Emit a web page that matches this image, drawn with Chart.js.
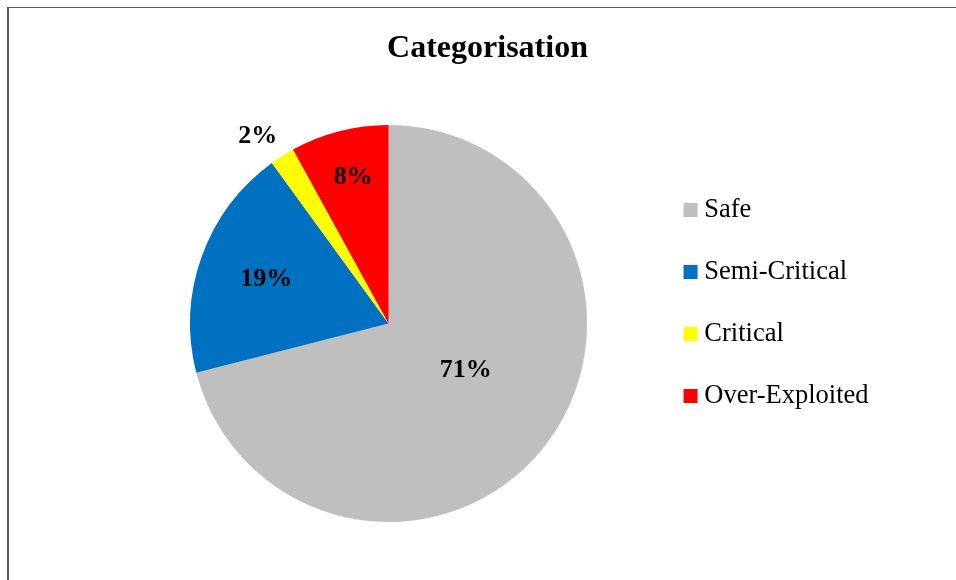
<!DOCTYPE html>
<html>
<head>
<meta charset="utf-8">
<script src="https://cdn.jsdelivr.net/npm/chart.js@4.4.1/dist/chart.umd.min.js"></script>
<style>
    html, body { margin: 0; padding: 0; background: #fff; }
    #wrap { position: relative; width: 956px; height: 580px; overflow: hidden; }
    #frame {
        position: absolute; left: 7px; top: 7px; right: -5px; bottom: -5px;
        border-top: 1px solid #595959; border-left: 2px solid #595959;
    }
    #pie-chart { position: absolute; left: 0; top: 0; }
</style>
</head>
<body>
<div id="wrap">
    <div id="frame"></div>
    <canvas id="pie-chart" width="956" height="580"></canvas>
</div>
<script>
(function () {
    "use strict";

    var chartTitle = "Categorisation";
    var categories = ["Safe", "Semi-Critical", "Critical", "Over-Exploited"];
    var shares = [71, 19, 2, 8];
    var sliceColors = ["#BFBFBF", "#0070C0", "#FFFF00", "#FF0000"];

    // where each percentage sits: fraction of the radius, and a small turn in degrees
    var labelSpots = [
        {r: 0.454, turn: -6.7},
        {r: 0.655, turn: 0},
        {r: 1.15, turn: -2.6},
        {r: 0.76, turn: 0.9}
    ];

    var serif = "'Liberation Serif', 'Times New Roman', serif";

    // Title drawn at a fixed spot above the pie
    var titlePlugin = {
        id: "fixedTitle",
        afterDraw: function (chart) {
            var ctx = chart.ctx;
            ctx.save();
            ctx.font = "bold 32px " + serif;
            ctx.fillStyle = "#000";
            ctx.textAlign = "center";
            ctx.textBaseline = "alphabetic";
            ctx.fillText(chartTitle, 487.5, 57);
            ctx.restore();
        }
    };

    // Percent labels on the slices
    var percentPlugin = {
        id: "percentLabels",
        afterDatasetsDraw: function (chart) {
            var ctx = chart.ctx;
            var meta = chart.getDatasetMeta(0);
            ctx.save();
            ctx.font = "bold 26px " + serif;
            ctx.fillStyle = "#000";
            ctx.textAlign = "center";
            ctx.textBaseline = "middle";
            meta.data.forEach(function (arc, i) {
                var spot = labelSpots[i];
                var a = (arc.startAngle + arc.endAngle) / 2 + spot.turn * Math.PI / 180;
                var r = arc.outerRadius * spot.r;
                ctx.fillText(shares[i] + "%", arc.x + Math.cos(a) * r, arc.y + Math.sin(a) * r);
            });
            ctx.restore();
        }
    };

    var ctx = document.getElementById("pie-chart").getContext("2d");
    new Chart(ctx, {
        type: "pie",
        data: {
            labels: categories,
            datasets: [{
                data: shares,
                backgroundColor: sliceColors,
                borderWidth: 0
            }]
        },
        options: {
            responsive: false,
            animation: false,
            layout: {
                padding: {top: 125, bottom: 58, left: 122.6, right: 77.4}
            },
            plugins: {
                tooltip: {enabled: false},
                legend: {
                    position: "right",
                    align: "start",
                    fullSize: false,
                    title: {
                        display: true,
                        text: "",
                        font: {size: 26, lineHeight: 1.2},
                        padding: {top: 0, bottom: 5}
                    },
                    labels: {
                        usePointStyle: true,
                        pointStyle: "rect",
                        boxWidth: 1,
                        boxHeight: 14,
                        padding: 35.5,
                        color: "#000",
                        font: {family: serif, size: 26.5}
                    }
                }
            }
        },
        plugins: [titlePlugin, percentPlugin]
    });
})();
</script>
</body>
</html>
